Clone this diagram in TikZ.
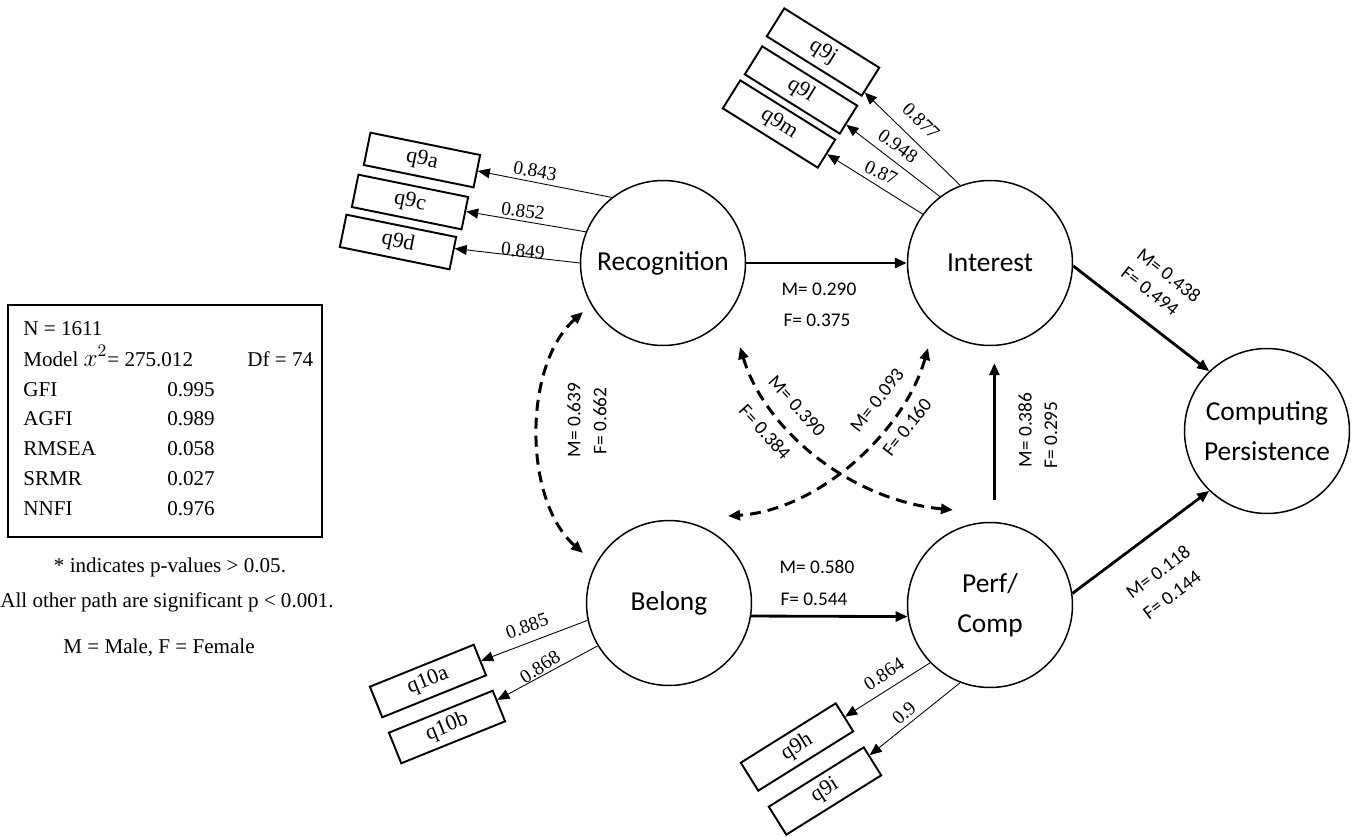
\documentclass[tikz,border=0pt]{standalone}
\usepackage{fontspec}
\setmainfont{Liberation Serif}
\newfontfamily\tnr{Liberation Serif}
\newfontfamily\calibri{Carlito}
\usetikzlibrary{arrows.meta}

\begin{document}
\begin{tikzpicture}[x=0.02cm, y=-0.02cm,
        >={Triangle[length=0.24cm,width=0.2cm]},
        latente/.style={draw, circle, line width=0.85pt, minimum size=3.3cm, inner sep=0pt, align=center, font=\calibri\fontsize{15.6}{22.7}\selectfont},
        indicador/.style={draw, line width=1.1pt, minimum width=2.24cm, minimum height=0.66cm, inner sep=0pt, font=\tnr\fontsize{12.5}{14}\selectfont},
        carga/.style={inner sep=0pt, font=\tnr\fontsize{11}{13}\selectfont},
        coef/.style={inner sep=0pt, font=\calibri\fontsize{11}{13}\selectfont},
        flecha/.style={->, line width=0.5pt},
        camino/.style={->, line width=1.6pt},
        cov/.style={<->, line width=1.7pt, dash pattern=on 0.22cm off 0.14cm},
        estad/.style={anchor=base west, inner sep=0pt, font=\tnr\fontsize{12}{14}\selectfont},
        nota/.style={anchor=base, inner sep=0pt, font=\tnr\fontsize{12}{14}\selectfont}]
    \useasboundingbox (0,0) rectangle (1356,836);

    % Variables latentes
    \node[latente] (rec) at (663,263) {Recognition};
    \node[latente] (int) at (990,263) {Interest};
    \node[latente] (bel) at (669,603) {Belong};
    \node[latente] (perf) at (990,605) {Perf/\\Comp};
    \node[latente] (cp) at (1267,431) {Computing\\Persistence};

    % Indicadores
    \node[indicador, rotate=-11.5] (q9a) at (422,160) {q9a};
    \node[indicador, rotate=-11.5] (q9c) at (410,202) {q9c};
    \node[indicador, rotate=-11.5] (q9d) at (398,242) {q9d};
    \node[indicador, rotate=-32] (q9j) at (823,52) {q9j};
    \node[indicador, rotate=-32] (q9l) at (801,90) {q9l};
    \node[indicador, rotate=-32] (q9m) at (779,124) {q9m};
    \node[indicador, rotate=22] (q10a) at (428,681) {q10a};
    \node[indicador, rotate=22] (q10b) at (447,727) {q10b};
    \node[indicador, rotate=32] (q9h) at (797,747) {q9h};
    \node[indicador, rotate=32] (q9i) at (825,791) {q9i};

    % Cargas factoriales
    \draw[flecha] (rec.128) -- (q9a);
    \draw[flecha] (rec.158) -- (q9c);
    \draw[flecha] (rec.180) -- (q9d);
    \draw[flecha] (int.111) -- (q9j);
    \draw[flecha] (int.127) -- (q9l);
    \draw[flecha] (int.144) -- (q9m);
    \draw[flecha] (bel.192) -- (q10a);
    \draw[flecha] (bel.211) -- (q10b);
    \draw[flecha] (perf.224) -- (q9h);
    \draw[flecha] (perf.249) -- (q9i);

    \node[carga, rotate=-10] (l-q9a) at (535,171) {0.843};
    \node[carga, rotate=-8] (l-q9c) at (523,211) {0.852};
    \node[carga, rotate=-6] (l-q9d) at (523,251) {0.849};
    \node[carga, rotate=-45] (l-q9j) at (921,121) {0.877};
    \node[carga, rotate=-36] (l-q9l) at (898,146) {0.948};
    \node[carga, rotate=-25] (l-q9m) at (881,173) {0.87};
    \node[carga, rotate=20] (l-q10a) at (527,626) {0.885};
    \node[carga, rotate=33] (l-q10b) at (540,667) {0.868};
    \node[carga, rotate=33] (l-q9h) at (884,674) {0.864};
    \node[carga, rotate=42] (l-q9i) at (904,713) {0.9};

    % Caminos estructurales
    \draw[camino] (rec) -- (int);
    \draw[camino] (bel.351) -- (perf.188);
    \draw[camino, shorten <=0.44cm, shorten >=0.34cm] (perf.87) -- (int.273);
    \draw[camino] (int.-2) -- (cp.134);
    \draw[camino] (perf.8) -- (cp.226);

    % Covarianzas
    \draw[cov] ([shift={(-80,49)}]rec.center) .. controls +(-60,53) and +(-60,-53) .. ([shift={(-86,-50)}]bel.center);
    \draw[cov] ([shift={(77,84)}]rec.center) .. controls +(25,83) and +(-103,-10) .. ([shift={(-37,-95)}]perf.center);
    \draw[cov] ([shift={(-62,85)}]int.center) .. controls +(-23,82) and +(92,-6) .. ([shift={(59,-87)}]bel.center);

    % Coeficientes M / F
    \node[coef] (m-ri) at (819,289) {M= 0.290};
    \node[coef] (f-ri) at (817,320) {F= 0.375};
    \node[coef] (m-bp) at (817,567) {M= 0.580};
    \node[coef] (f-bp) at (814,599) {F= 0.544};
    \node[coef, rotate=90] (m-pi) at (1025,430) {M= 0.386};
    \node[coef, rotate=90] (f-pi) at (1051,435) {F= 0.295};
    \node[coef, rotate=90] (m-rb) at (574,420) {M= 0.639};
    \node[coef, rotate=90] (f-rb) at (600,421) {F= 0.662};
    \node[coef, rotate=-48] (m-rp) at (797,406) {M= 0.390};
    \node[coef, rotate=-48] (f-rp) at (765,432) {F= 0.384};
    \node[coef, rotate=52] (m-ib) at (877,400) {M= 0.093};
    \node[coef, rotate=52] (f-ib) at (907,427) {F= 0.160};
    \node[coef, rotate=-38] (m-ic) at (1169,275) {M= 0.438};
    \node[coef, rotate=-38] (f-ic) at (1150,291) {F= 0.494};
    \node[coef, rotate=37] (m-pc) at (1158,572) {M= 0.118};
    \node[coef, rotate=37] (f-pc) at (1172,595) {F= 0.144};

    % Cuadro de ajuste
    \draw[line width=0.9pt] (8,305) rectangle (322,537);
    \node[estad] (n) at (23,335) {N = 1611};
    \node[estad] (chi) at (23,366) {Model {\fontsize{14}{14}\selectfont$x^{2}$}= 275.012};
    \node[estad] (df) at (247,366) {Df = 74};
    \node[estad] (gfi) at (23,396) {GFI};
    \node[estad] (gfi-v) at (167,396) {0.995};
    \node[estad] (agfi) at (23,425) {AGFI};
    \node[estad] (agfi-v) at (167,425) {0.989};
    \node[estad] (rmsea) at (23,455) {RMSEA};
    \node[estad] (rmsea-v) at (167,455) {0.058};
    \node[estad] (srmr) at (23,485) {SRMR};
    \node[estad] (srmr-v) at (167,485) {0.027};
    \node[estad] (nnfi) at (23,515) {NNFI};
    \node[estad] (nnfi-v) at (167,515) {0.976};

    % Notas
    \node[nota] (nota1) at (170,572) {* indicates p-values > 0.05.};
    \node[nota] (nota2) at (167,607) {All other path are significant p < 0.001.};
    \node[nota] (nota3) at (159,653) {M = Male, F = Female};
\end{tikzpicture}
\end{document}
